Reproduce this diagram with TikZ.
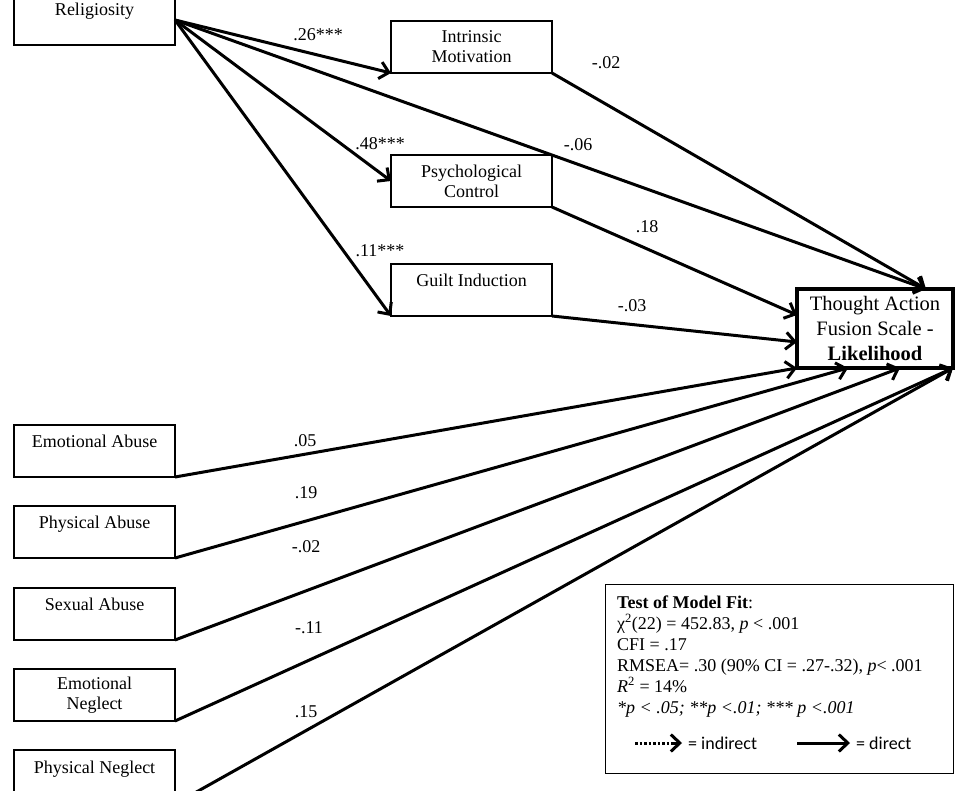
\documentclass[tikz,border=0pt]{standalone}
\usepackage{fontspec}
\setmainfont{Liberation Serif}
\newfontfamily\calib{Carlito}
\usetikzlibrary{arrows.meta,calc}
\begin{document}
\begin{tikzpicture}[x=1pt,y=-1pt,
  box/.style={draw, line width=2.8pt, inner sep=0pt, outer sep=0pt, anchor=north west,
    minimum width=161pt, minimum height=52pt, align=center,
    font=\fontsize{18}{20}\selectfont},
  conn/.style={line width=3pt, -{Straight Barb[length=9pt,width=17pt,line width=3pt]}},
  lab/.style={font=\fontsize{18}{20}\selectfont, inner sep=0pt},
  fit/.style={font=\fontsize{18}{21}\selectfont, inner sep=0pt, anchor=base west}]
\useasboundingbox (0,0) rectangle (955,791);
\clip (0,0) rectangle (955,791);

% boxes
\node[box] (rel) at (14,-7) {Religiosity\\\mbox{}};
\node[box] (im) at (391,21) {Intrinsic\\Motivation};
\node[box] (pc) at (391,155) {Psychological\\Control};
\node[box] (gi) at (391,264) {Guilt Induction\\\mbox{}};
\node[box, line width=4pt, minimum width=156pt, minimum height=79pt,
      font=\fontsize{20.5}{25}\selectfont] (taf) at (797,289)
      {Thought Action\\Fusion Scale -\\\textbf{Likelihood}};
\node[box] (ea) at (14,425) {Emotional Abuse\\\mbox{}};
\node[box] (pa) at (14,506) {Physical Abuse\\\mbox{}};
\node[box] (sa) at (14,588) {Sexual Abuse\\\mbox{}};
\node[box] (en) at (14,669) {Emotional\\Neglect};
\node[box, minimum height=54pt] (pn) at (14,750) {Physical Neglect\\\mbox{}};

% connector end points
\coordinate (rs) at (175,20);
\coordinate (tTop) at (926,289);
\coordinate (tL1) at (797,315);
\coordinate (tL2) at (797,342);
\coordinate (tB1) at (848,368);
\coordinate (tB2) at (900,368);

% connectors
\draw[conn] (rs) -- (im.south west);
\draw[conn] (rs) -- (pc.west);
\draw[conn] (rs) -- (gi.south west);
\draw[conn] (rs) -- (tTop);
\draw[conn] (im.south east) -- (tTop);
\draw[conn] (pc.south east) -- (tL1);
\draw[conn] (gi.south east) -- (tL2);
\draw[conn] (ea.south east) -- (taf.south west);
\draw[conn] (pa.south east) -- (tB1);
\draw[conn] (sa.south east) -- (tB2);
\draw[conn] (en.south east) -- (taf.south east);
\draw[conn] (pn.south east) -- (taf.south east);

% labels
\node[lab] (l1) at (318,35) {.26***};
\node[lab] (l2) at (380,144) {.48***};
\node[lab] (l3) at (380,251) {.11***};
\node[lab] (l4) at (606,63) {-.02};
\node[lab] (l5) at (578,145) {-.06};
\node[lab] (l6) at (647,227) {.18};
\node[lab] (l7) at (632,306) {-.03};
\node[lab] (l8) at (305,441) {.05};
\node[lab] (l9) at (306,493) {.19};
\node[lab] (l10) at (306,547) {-.02};
\node[lab] (l11) at (309,628) {-.11};
\node[lab] (l12) at (306,712) {.15};

% model fit box
\draw[line width=1pt] (605,584) rectangle (953,773);
\node[fit] (f1) at (617,608) {\textbf{Test of Model Fit}:};
\node[fit] (f2) at (617,629) {χ\textsuperscript{2}(22) = 452.83, \textit{p} {\textless} .001};
\node[fit] (f3) at (617,650) {CFI = .17};
\node[fit] (f4) at (617,671) {RMSEA= .30 (90\% CI = .27-.32), \textit{p}{\textless} .001};
\node[fit] (f5) at (617,692) {\textit{R}\textsuperscript{2} = 14\%};
\node[fit] (f6) at (617,713) {\textit{*p {\textless} .05; **p {\textless}.01; *** p {\textless}.001}};

\coordinate (d1) at (635,743);
\coordinate (d2) at (682,743);
\coordinate (d3) at (673,743);
\coordinate (s1) at (797,743);
\coordinate (s2) at (850,743);
\draw[line width=3pt, dash pattern=on 2.5pt off 2pt] (d1) -- (d3);
\draw[conn] (d3) -- (d2);
\draw[conn] (s1) -- (s2);
\node[fit, font=\calib\fontsize{18}{21}\selectfont] (li) at (688,749) {= indirect};
\node[fit, font=\calib\fontsize{18}{21}\selectfont] (ld) at (856,749) {= direct};
\end{tikzpicture}
\end{document}
